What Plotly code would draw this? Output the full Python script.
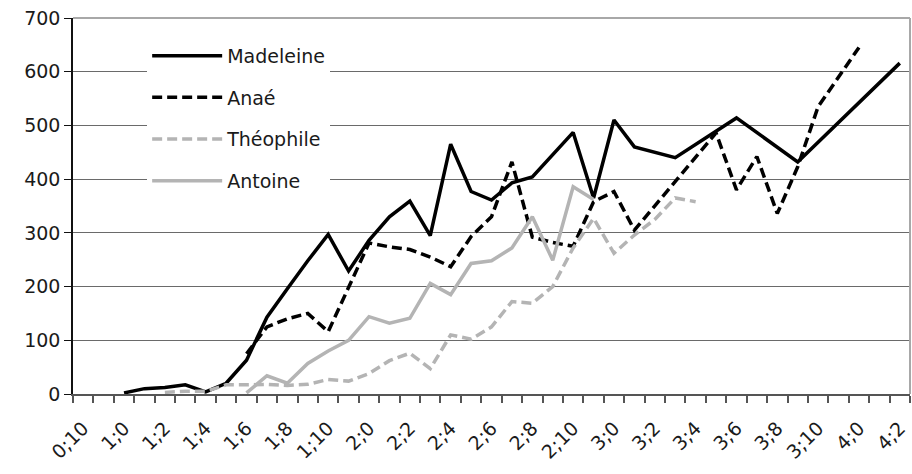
import plotly.graph_objects as go

categories = ["0;10", "0;11",
              "1;0", "1;1", "1;2", "1;3", "1;4", "1;5", "1;6", "1;7", "1;8", "1;9", "1;10", "1;11",
              "2;0", "2;1", "2;2", "2;3", "2;4", "2;5", "2;6", "2;7", "2;8", "2;9", "2;10", "2;11",
              "3;0", "3;1", "3;2", "3;3", "3;4", "3;5", "3;6", "3;7", "3;8", "3;9", "3;10", "3;11",
              "4;0", "4;1", "4;2"]

N = None
madeleine = [N, N,
             2, 10, 12, 17, 4, 20, 63, 143, 196, 248, 297, 229,
             286, 330, 359, 295, 465, 377, 361, 393, 404, N, 487, 365,
             510, 460, N, 440, N, N, 514, N, N, 432, N, N,
             N, N, 616]
anae = [N, N,
        N, N, N, N, N, N, 75, 125, 140, 150, 116, 198,
        281, 274, 269, 255, 237, 293, 330, 432, 292, 282, 275, 358,
        377, 305, 350, 395, 440, 486, 380, 442, 336, 423, 535, 590,
        645, N, N]
theophile = [N, N,
             N, N, 3, 5, 5, 17, 17, 18, 16, 18, 27, 24,
             38, 62, 76, 47, 110, 102, 125, 172, 169, 200, 272, 327,
             262, 296, 325, 365, 358, N, N, N, N, N, N, N,
             N, N, N]
antoine = [N, N,
           N, N, N, N, N, N, 2, 34, 20, 57, 80, 100,
           144, 132, 141, 206, 185, 243, 248, 272, 330, 249, 386, 362,
           N, N, N, N, N, N, N, N, N, N, N, N,
           N, N, N]

names = ["Madeleine", "Anaé", "Théophile", "Antoine"]
series = [madeleine, anae, theophile, antoine]
colors = ["#000000", "#000000", "#b4b4b4", "#b4b4b4"]
dashes = ["solid", "10px,5px", "10px,5px", "solid"]

xs = list(range(len(categories)))

fig = go.Figure()
for i, (nm, ys, c, d) in enumerate(zip(names, series, colors, dashes)):
    fig.add_trace(go.Scatter(
        x=xs, y=ys, name=nm, mode="lines", connectgaps=True,
        line=dict(color=c, width=3.5, dash=d),
        legendgroup=nm, legendrank=i + 1,
    ))

FONT = "DejaVu Sans"
fig.update_layout(
    width=912, height=474,
    margin=dict(l=73, r=2, t=18, b=80),
    plot_bgcolor="white", paper_bgcolor="white",
    font=dict(family=FONT, size=18, color="#1a1a1a"),
    showlegend=True,
    legend=dict(
        x=0.0886, y=0.95, xanchor="left", yanchor="top",
        bgcolor="white", borderwidth=0,
        font=dict(family=FONT, size=19, color="#1a1a1a"),
        itemwidth=70, tracegroupgap=14, traceorder="grouped",
        entrywidth=125, entrywidthmode="pixels",
    ),
    xaxis=dict(
        range=[-0.5, len(categories) - 0.5], automargin=False,
        tickmode="array", tickvals=xs[::2], ticktext=categories[::2],
        tickangle=-45, ticks="", showgrid=False, zeroline=False,
        showline=True, linecolor="#555555", linewidth=1.5,
        ticklabelstandoff=14,
        minor=dict(ticks="outside", tick0=-0.5, dtick=1, ticklen=7,
                   tickcolor="#555555", tickwidth=1.5, showgrid=False),
        tickfont=dict(family=FONT, size=19),
    ),
    yaxis=dict(
        range=[0, 700], dtick=100, ticks="outside", ticklen=7, automargin=False,
        tickcolor="#111111", showline=True, linecolor="#111111", linewidth=1.5,
        showgrid=True, gridcolor="#6a6a6a", gridwidth=1, zeroline=False,
        tickfont=dict(family=FONT, size=19),
    ),
    shapes=[dict(type="line", xref="paper", yref="paper", x0=0, x1=1, y0=1, y1=1,
                 line=dict(color="#a8a8a8", width=2), layer="above"),
            dict(type="line", xref="paper", yref="paper", x0=1, x1=1, y0=0, y1=1,
                 line=dict(color="#a8a8a8", width=2), layer="above")],
)

fig.write_html("out.html", config={"displayModeBar": False},
               post_script="document.body.style.margin='0';document.body.style.overflow='hidden';")
